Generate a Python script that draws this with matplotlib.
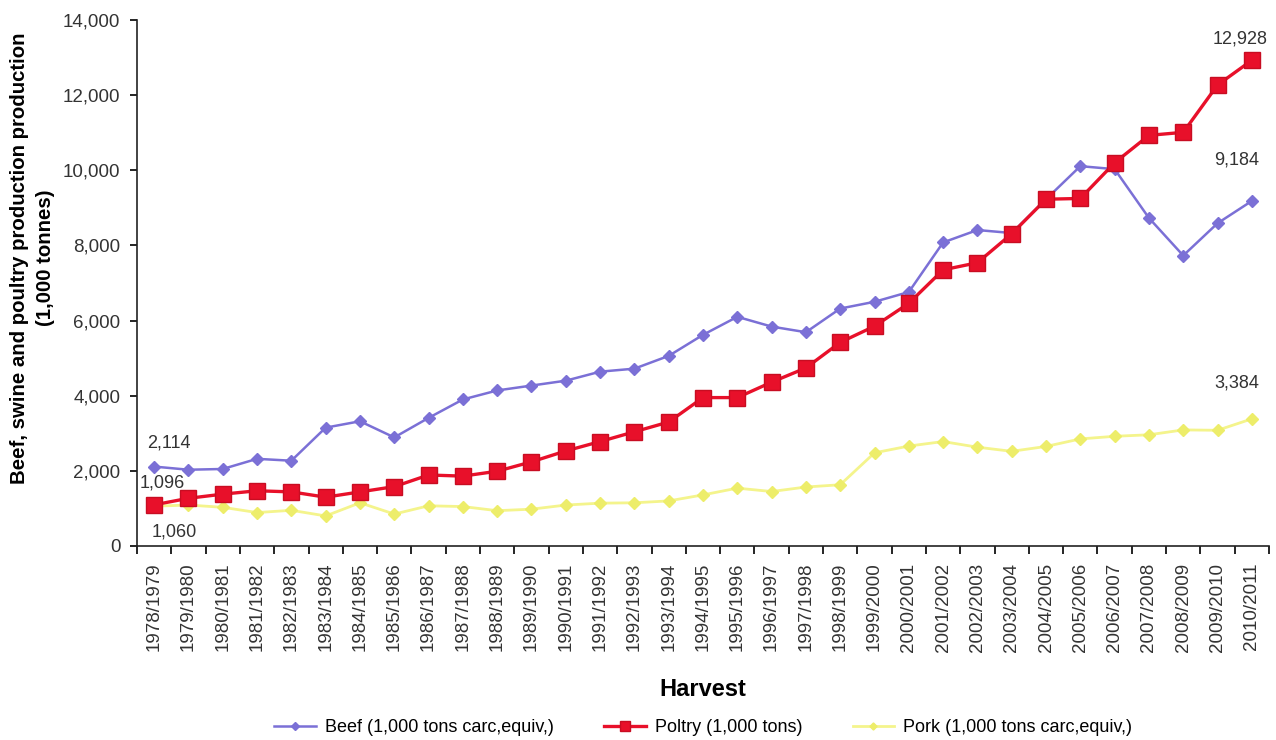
import matplotlib
matplotlib.use('Agg')
import matplotlib.pyplot as plt
import numpy as np

harvests = ['1978/1979', '1979/1980', '1980/1981', '1981/1982', '1982/1983', '1983/1984',
            '1984/1985', '1985/1986', '1986/1987', '1987/1988', '1988/1989', '1989/1990',
            '1990/1991', '1991/1992', '1992/1993', '1993/1994', '1994/1995', '1995/1996',
            '1996/1997', '1997/1998', '1998/1999', '1999/2000', '2000/2001', '2001/2002',
            '2002/2003', '2003/2004', '2004/2005', '2005/2006', '2006/2007', '2007/2008',
            '2008/2009', '2009/2010', '2010/2011']

beef = [2114, 2030, 2050, 2320, 2270, 3150, 3320, 2890, 3410, 3900, 4140, 4270, 4400,
        4640, 4720, 5060, 5620, 6100, 5840, 5690, 6320, 6500, 6760, 8080, 8410, 8330,
        9230, 10110, 10030, 8730, 7730, 8590, 9184]
poultry = [1096, 1270, 1380, 1470, 1440, 1300, 1440, 1580, 1890, 1860, 1990, 2240, 2530,
           2780, 3040, 3300, 3950, 3950, 4360, 4740, 5420, 5850, 6460, 7350, 7540, 8310,
           9230, 9250, 10200, 10930, 11010, 12270, 12928]
pork = [1060, 1090, 1030, 890, 950, 800, 1150, 850, 1070, 1050, 940, 980, 1090,
        1140, 1150, 1200, 1360, 1540, 1450, 1570, 1630, 2480, 2660, 2780, 2630, 2520,
        2650, 2850, 2920, 2960, 3090, 3080, 3384]

plt.rcParams['font.family'] = ['Liberation Sans', 'DejaVu Sans']

fig = plt.figure(figsize=(12.76, 7.4), dpi=100)
ax = fig.add_axes([137 / 1276, 1 - 546 / 740, (1269 - 137) / 1276, (546 - 20) / 740])

x = np.arange(len(harvests))
ax.plot(x, pork, color='#F4F48C', lw=2, marker='D', ms=6, mec='#EDED6A', mfc='#EDED6A',
        label='Pork (1,000 tons carc,equiv,)', zorder=2)
ax.plot(x, beef, color='#7B70D6', lw=1.8, marker='D', ms=6.5, mfc='#7B70D6', mec='#7B70D6',
        label='Beef (1,000 tons carc,equiv,)', zorder=3)
ax.plot(x, poultry, color='#E8102A', lw=2.4, marker='s', ms=12, mfc='#E8102A', mec='#C80D22',
        label='Poltry (1,000 tons)', zorder=4)

# labels on first and last values
def note(val, i, dx, dy):
    ax.annotate(f'{val:,}', (x[i], val), xytext=(dx, dy), textcoords='offset pixels',
                ha='center', va='center', fontsize=13, color='#333333')

note(beef[0], 0, 15, 24)
note(poultry[0], 0, 8, 22)
note(pork[0], 0, 20, -26)
note(poultry[-1], -1, -12, 21)
note(beef[-1], -1, -15, 41)
note(pork[-1], -1, -15, 36)

ax.set_xlim(-0.5, len(harvests) - 0.5)
ax.set_ylim(0, 14000)
ax.set_yticks(range(0, 14001, 2000))
ax.set_yticklabels([f'{v:,}' for v in range(0, 14001, 2000)], fontsize=13.5, color='#333333')
ax.set_xticks(x)
ax.set_xticklabels(harvests, rotation=90, fontsize=13.5, color='#333333')
ax.set_xticks(np.arange(-0.5, len(harvests), 1), minor=True)
ax.tick_params(axis='x', which='major', length=0, pad=12)
ax.tick_params(axis='x', which='minor', length=6, width=1.2)
ax.tick_params(axis='y', length=5, width=1.2, pad=7)
for s in ['top', 'right']:
    ax.spines[s].set_visible(False)
for s in ['left', 'bottom']:
    ax.spines[s].set_linewidth(1.2)
    ax.spines[s].set_color('#222222')

ax.set_ylabel('Beef, swine and poultry production production\n(1,000 tonnes)',
              fontsize=14.7, fontweight='bold', linespacing=1.5)
ax.yaxis.set_label_coords(-0.0724, 0.548)
ax.set_xlabel('Harvest', fontsize=17, fontweight='bold', labelpad=19)

h, l = ax.get_legend_handles_labels()
order = [1, 2, 0]
fig.legend([h[i] for i in order], [l[i] for i in order], loc='center', ncol=3,
           bbox_to_anchor=(0.551, 1 - 728 / 740), frameon=False, fontsize=13,
           columnspacing=2.8, handlelength=2.3, handletextpad=0.5, markerscale=0.6)

fig.savefig('out.png', dpi=100)
